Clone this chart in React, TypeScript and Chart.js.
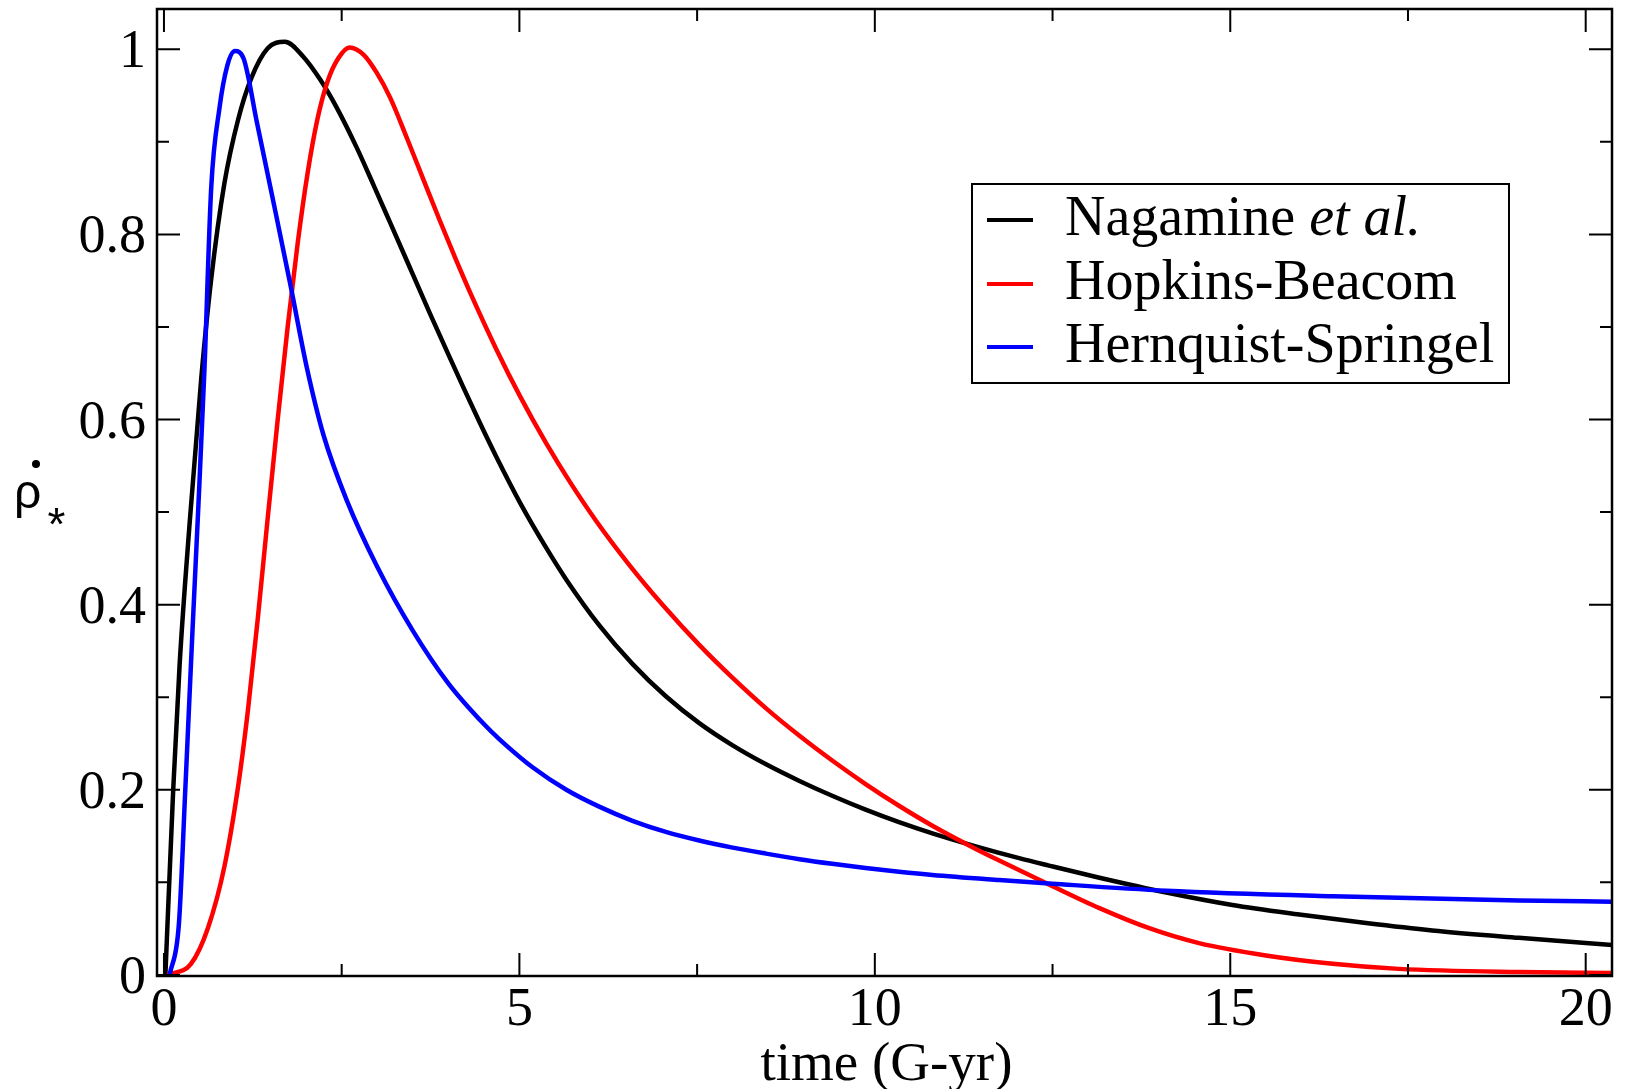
import React, { useEffect, useRef } from "react";
import { Chart, registerables } from "chart.js";

Chart.register(...registerables);

// ---- Data ----
const nagamineT = [0.02, 0.13, 0.22, 0.36, 0.525, 0.665, 0.85, 1.04, 1.23, 1.46, 1.7, 1.96, 2.2, 2.43, 2.71, 2.95, 3.18, 3.42, 3.739, 3.973, 4.21, 4.44, 4.68, 5.01, 5.38, 5.66, 6.13, 6.59, 7.06, 7.53, 8.0, 8.47, 8.94, 9.4, 9.87, 10.34, 10.81, 11.42, 12.03, 12.45, 13.16, 14.1, 15.03, 15.97, 16.91, 17.84, 19.06, 20.4];
const nagamineV = [0, 0.2, 0.335, 0.487, 0.645, 0.752, 0.855, 0.923, 0.969, 1.001, 1.008, 0.992, 0.967, 0.937, 0.894, 0.853, 0.813, 0.771, 0.715, 0.675, 0.635, 0.597, 0.559, 0.51, 0.461, 0.427, 0.377, 0.336, 0.301, 0.272, 0.248, 0.2275, 0.2095, 0.1935, 0.1785, 0.165, 0.1529, 0.1389, 0.1261, 0.1181, 0.105, 0.089, 0.0755, 0.0652, 0.056, 0.048, 0.04, 0.032];

const hopkinsT = [0.05, 0.38, 0.62, 0.85, 1.04, 1.18, 1.32, 1.46, 1.6, 1.74, 1.88, 2.02, 2.16, 2.3, 2.45, 2.61, 2.81, 2.99, 3.18, 3.42, 3.65, 3.88, 4.1, 4.325, 4.68, 5.01, 5.38, 5.71, 6.08, 6.55, 7.02, 7.53, 8.0, 8.47, 8.94, 9.4, 9.87, 10.34, 10.81, 11.42, 11.75, 12.45, 13.16, 13.86, 14.56, 15.5, 16.44, 17.37, 19.06, 20.4];
const hopkinsV = [0, 0.012, 0.051, 0.117, 0.202, 0.285, 0.385, 0.494, 0.6, 0.7, 0.79, 0.866, 0.925, 0.965, 0.99, 1.002, 0.994, 0.975, 0.948, 0.9036, 0.8592, 0.815, 0.7741, 0.7341, 0.6752, 0.625, 0.5739, 0.5326, 0.4904, 0.4425, 0.3993, 0.3565, 0.3208, 0.2879, 0.2583, 0.2316, 0.2062, 0.1827, 0.1611, 0.1361, 0.1236, 0.0977, 0.0721, 0.0504, 0.0343, 0.021, 0.012, 0.0065, 0.003, 0.002];

const hernquistT = [0.08, 0.21, 0.3, 0.4, 0.48, 0.57, 0.665, 0.78, 0.89, 1.0, 1.12, 1.31, 1.54, 1.78, 2.01, 2.245, 2.57, 3.0, 3.5, 4.0, 4.5, 4.72, 5.19, 5.66, 6.13, 6.59, 7.06, 7.53, 8.0, 8.47, 8.94, 9.4, 9.87, 10.34, 10.81, 11.75, 12.5, 14.1, 16.44, 19.06, 20.4];
const hernquistV = [0, 0.055, 0.2, 0.37, 0.5, 0.655, 0.851, 0.936, 0.982, 0.998, 0.99, 0.92, 0.835, 0.745, 0.656, 0.583, 0.513, 0.441, 0.372, 0.315, 0.271, 0.2545, 0.224, 0.2, 0.1815, 0.1665, 0.1545, 0.1452, 0.1375, 0.131, 0.125, 0.12, 0.1155, 0.1115, 0.108, 0.1025, 0.0985, 0.091, 0.085, 0.0805, 0.079];

const seriesLabels = ["Nagamine et al.", "Hopkins-Beacom", "Hernquist-Springel"];
const seriesColors = ["#000000", "#ff0000", "#0000ff"];

const xMajorTicks = [0, 5, 10, 15, 20];
const xMinorTicks = [2.5, 7.5, 12.5, 17.5];
const yMajorTicks = [0, 0.2, 0.4, 0.6, 0.8, 1];
const yMajorLabels = ["0", "0.2", "0.4", "0.6", "0.8", "1"];
const yMinorTicks = [0.1, 0.3, 0.5, 0.7, 0.9];

const xTitle = "time (G-yr)";

const toPoints = (t: number[], v: number[]) => t.map((x, i) => ({ x, y: v[i] }));

const SERIF = '"Liberation Serif", "Times New Roman", serif';
const SANS = '"Liberation Sans", Arial, sans-serif';

const framePlugin = {
  id: "frame",
  afterDraw(chart: any) {
    const { ctx, chartArea: a } = chart;
    const xs = chart.scales.x;
    const ys = chart.scales.y;
    ctx.save();
    ctx.strokeStyle = "#000";
    ctx.fillStyle = "#000";
    ctx.lineCap = "butt";

    // ticks (inward, all four sides)
    ctx.lineWidth = 2;
    const vline = (px: number, len: number) => {
      ctx.beginPath();
      ctx.moveTo(px, a.bottom);
      ctx.lineTo(px, a.bottom - len);
      ctx.moveTo(px, a.top);
      ctx.lineTo(px, a.top + len);
      ctx.stroke();
    };
    const hline = (py: number, len: number) => {
      ctx.beginPath();
      ctx.moveTo(a.left, py);
      ctx.lineTo(a.left + len, py);
      ctx.moveTo(a.right, py);
      ctx.lineTo(a.right - len, py);
      ctx.stroke();
    };
    xMajorTicks.forEach((v) => vline(xs.getPixelForValue(v), 23));
    xMinorTicks.forEach((v) => vline(xs.getPixelForValue(v), 12));
    yMajorTicks.forEach((v) => hline(ys.getPixelForValue(v), 23));
    yMinorTicks.forEach((v) => hline(ys.getPixelForValue(v), 12));

    // frame
    ctx.lineWidth = 2.5;
    ctx.strokeRect(a.left, a.top, a.right - a.left, a.bottom - a.top);

    // tick labels
    ctx.font = `54px ${SERIF}`;
    ctx.textBaseline = "alphabetic";
    ctx.textAlign = "center";
    xMajorTicks.forEach((v) => {
      ctx.fillText(String(v), xs.getPixelForValue(v), a.bottom + 49);
    });
    ctx.textAlign = "right";
    yMajorTicks.forEach((v, i) => {
      ctx.fillText(yMajorLabels[i], a.left - 11, ys.getPixelForValue(v) + 18);
    });

    // x title
    ctx.font = `55px ${SERIF}`;
    ctx.textAlign = "center";
    ctx.fillText(xTitle, (a.left + a.right) / 2 + 2, a.bottom + 104);

    // y title: rho with dot, subscript asterisk
    ctx.font = `48px ${SANS}`;
    ctx.textAlign = "left";
    ctx.fillText("ρ", 14, 508);
    ctx.beginPath();
    ctx.arc(36, 464, 4, 0, Math.PI * 2);
    ctx.fill();
    ctx.font = `46px ${SANS}`;
    ctx.textAlign = "center";
    ctx.fillText("*", 56.5, 540);

    // legend
    const lx = 972, ly = 184, lw = 537, lh = 199;
    ctx.fillStyle = "#fff";
    ctx.fillRect(lx, ly, lw, lh);
    ctx.lineWidth = 2;
    ctx.strokeStyle = "#000";
    ctx.strokeRect(lx, ly, lw, lh);
    const rowsY = [220, 284, 347];
    chart.data.datasets.forEach((ds: any, i: number) => {
      const yy = rowsY[i];
      ctx.strokeStyle = ds.borderColor;
      ctx.lineWidth = 4;
      ctx.beginPath();
      ctx.moveTo(987, yy);
      ctx.lineTo(1033, yy);
      ctx.stroke();
      ctx.fillStyle = "#000";
      ctx.textAlign = "left";
      const label: string = ds.label;
      const tx = 1065;
      const by = yy + 15;
      const idx = label.indexOf("et al.");
      if (idx >= 0) {
        const pre = label.slice(0, idx);
        ctx.font = `56px ${SERIF}`;
        ctx.fillText(pre, tx, by);
        const w = ctx.measureText(pre).width;
        ctx.font = `italic 56px ${SERIF}`;
        ctx.fillText(label.slice(idx), tx + w, by);
      } else {
        ctx.font = `56px ${SERIF}`;
        ctx.fillText(label, tx, by);
      }
    });
    ctx.restore();
  },
};

export default function App() {
  const ref = useRef<HTMLCanvasElement | null>(null);
  useEffect(() => {
    if (!ref.current) return;
    const chart = new Chart(ref.current, {
      type: "line",
      data: {
        datasets: [
          {
            label: seriesLabels[0],
            data: toPoints(nagamineT, nagamineV),
            borderColor: seriesColors[0],
            borderWidth: 4.5,
            pointRadius: 0,
            cubicInterpolationMode: "monotone",
            fill: false,
            order: 2,
          },
          {
            label: seriesLabels[1],
            data: toPoints(hopkinsT, hopkinsV),
            borderColor: seriesColors[1],
            borderWidth: 4.5,
            pointRadius: 0,
            cubicInterpolationMode: "monotone",
            fill: false,
            order: 1,
          },
          {
            label: seriesLabels[2],
            data: toPoints(hernquistT, hernquistV),
            borderColor: seriesColors[2],
            borderWidth: 4.5,
            pointRadius: 0,
            cubicInterpolationMode: "monotone",
            fill: false,
            order: 0,
          },
        ],
      } as any,
      options: {
        responsive: false,
        animation: false,
        devicePixelRatio: 1,
        layout: { padding: { left: 157, right: 16, top: 9, bottom: 113 } },
        plugins: {
          legend: { display: false },
          tooltip: { enabled: false },
        },
        events: [],
        scales: {
          x: { type: "linear", display: false, min: -0.098, max: 20.37 },
          y: { type: "linear", display: false, min: -0.0012, max: 1.0435 },
        },
      } as any,
      plugins: [framePlugin],
    });
    return () => chart.destroy();
  }, []);
  return (
    <div style={{ position: "fixed", left: 0, top: 0, width: 1628, height: 1089, background: "#fff" }}>
      <canvas ref={ref} width={1628} height={1089} style={{ width: 1628, height: 1089, display: "block" }} />
    </div>
  );
}
